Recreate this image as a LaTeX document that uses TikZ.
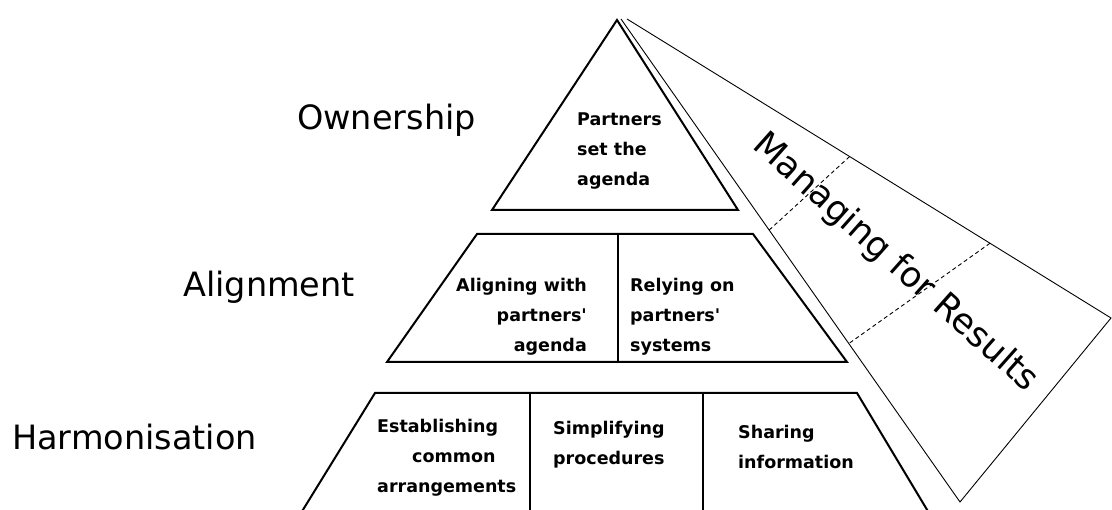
\documentclass[tikz,border=0pt]{standalone}
\usepackage{fontspec}
\setmainfont{DejaVu Sans}[Ligatures=TeXOff]
\usetikzlibrary{calc}
\begin{document}
\begin{tikzpicture}[x=1pt,y=-1pt,
  tier/.style={line width=2pt, line join=miter},
  band/.style={line width=0.9pt},
  divider/.style={line width=0.9pt, dash pattern=on 4pt off 3pt},
  level/.style={font=\fontsize{33.5}{40}\selectfont, inner sep=0pt},
  cell/.style={font=\bfseries\fontsize{17.5}{30}\selectfont, inner sep=0pt},
  bandtext/.style={font=\fontsize{35}{42}\selectfont, inner sep=0pt, rotate=-41.7}]
\useasboundingbox (0,0) rectangle (1112,510);
\clip (0,0) rectangle (1112,510);

% pyramid tiers
\coordinate (apex) at (617,20);
\coordinate (t1l) at (492,210);
\coordinate (t1r) at (738,210);
\draw[tier] (apex) -- (t1l) -- (t1r) -- cycle;

\coordinate (t2a) at (477,234);
\coordinate (t2b) at (753,234);
\coordinate (t2c) at (847,362);
\coordinate (t2d) at (387,362);
\draw[tier] (t2a) -- (t2b) -- (t2c) -- (t2d) -- cycle;
\coordinate (m1) at (618,234);
\coordinate (m2) at (618,362);
\draw[line width=1.6pt] (m1) -- (m2);

\coordinate (t3a) at (375,393);
\coordinate (t3b) at (857,393);
\coordinate (t3c) at (929,513);
\coordinate (t3d) at (301,513);
\draw[tier] (t3d) -- (t3a) -- (t3b) -- (t3c);
\coordinate (d1a) at (530,393);
\coordinate (d1b) at (530,513);
\coordinate (d2a) at (703,393);
\coordinate (d2b) at (703,513);
\draw[line width=1.6pt] (d1a) -- (d1b);
\draw[line width=1.6pt] (d2a) -- (d2b);

% Managing for Results band
\coordinate (bL) at (621,19);
\coordinate (bT) at (627,19);
\coordinate (bR) at (1111,318);
\coordinate (bB) at (960,502);
\draw[band] (bT) -- (bR) -- (bB) -- (bL);
\draw[divider] ($(bT)!0.46!(bR)$) -- ($(bL)!0.437!(bB)$);
\draw[divider] ($(bT)!0.75!(bR)$) -- ($(bL)!0.672!(bB)$);

% level labels
\node[level, anchor=base west] (own) at (297,130) {Ownership};
\node[level, anchor=base west] (ali) at (183,297) {Alignment};
\node[level, anchor=base west] (har) at (12,450) {Harmonisation};

% cell texts
\node[cell, align=left, anchor=west] (c1) at (577,151) {Partners\\set the\\agenda};
\node[cell, align=right, anchor=east] (c2) at (587,317) {Aligning with\\partners'\\agenda};
\node[cell, align=left, anchor=west] (c3) at (630,317) {Relying on\\partners'\\systems};
\node[cell, align=left, anchor=west] (c4) at (377,458) {Establishing\\\hspace*{35pt}common\\arrangements};
\node[cell, align=left, anchor=west] (c5) at (553,445) {Simplifying\\procedures};
\node[cell, align=left, anchor=west] (c6) at (738,447) {Sharing\\information};

\node[bandtext] (mfr) at (895,263) {Managing for Results};
\end{tikzpicture}
\end{document}
